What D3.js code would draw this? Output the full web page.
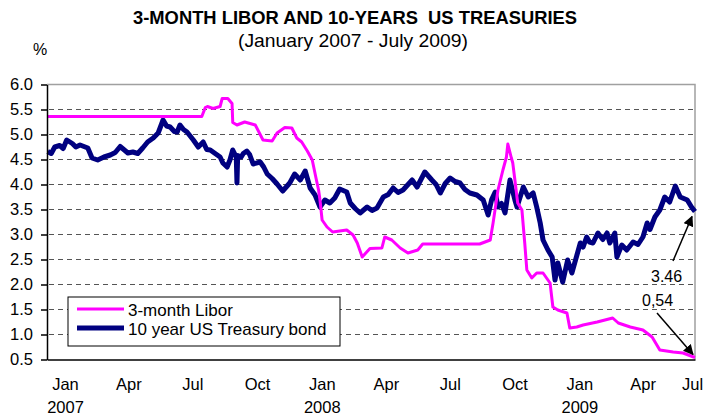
<!DOCTYPE html>
<html>
<head>
<meta charset="utf-8">
<script src="https://cdn.jsdelivr.net/npm/d3@7"></script>
<style>
  body { margin: 0; background: #fff; }
  svg { font-family: "Liberation Sans", Arial, sans-serif; }
</style>
</head>
<body>
<div id="chart"></div>
<script>
// 3-month Libor
var libor = [
  ["2007-01-01", 5.36], ["2007-08-09", 5.36], ["2007-08-14", 5.54], ["2007-08-17", 5.56],
  ["2007-08-25", 5.52], ["2007-09-04", 5.56], ["2007-09-07", 5.72], ["2007-09-15", 5.72],
  ["2007-09-21", 5.62], ["2007-09-22", 5.24], ["2007-09-28", 5.19], ["2007-10-09", 5.25],
  ["2007-10-24", 5.19], ["2007-11-04", 4.89], ["2007-11-17", 4.87], ["2007-11-24", 5.03],
  ["2007-12-05", 5.14], ["2007-12-15", 5.13], ["2007-12-22", 4.93], ["2007-12-29", 4.85],
  ["2008-01-06", 4.67], ["2008-01-13", 4.49], ["2008-01-18", 4.15], ["2008-01-22", 3.89],
  ["2008-01-24", 3.69], ["2008-01-27", 3.29], ["2008-02-03", 3.15], ["2008-02-11", 3.05],
  ["2008-03-02", 3.09], ["2008-03-11", 2.99], ["2008-03-17", 2.83], ["2008-03-24", 2.55],
  ["2008-04-04", 2.72], ["2008-04-21", 2.73], ["2008-04-25", 2.95], ["2008-05-05", 2.89],
  ["2008-05-17", 2.73], ["2008-05-28", 2.63], ["2008-06-11", 2.69], ["2008-06-18", 2.81],
  ["2008-09-07", 2.81], ["2008-09-22", 2.89], ["2008-09-26", 3.23], ["2008-10-03", 3.89],
  ["2008-10-10", 4.29], ["2008-10-15", 4.55], ["2008-10-17", 4.81], ["2008-10-22", 4.53],
  ["2008-10-24", 4.43], ["2008-10-27", 4.09], ["2008-10-31", 3.63], ["2008-11-06", 3.49],
  ["2008-11-10", 2.83], ["2008-11-13", 2.29], ["2008-11-20", 2.13], ["2008-11-27", 2.23],
  ["2008-12-06", 2.23], ["2008-12-16", 2.03], ["2008-12-20", 1.55], ["2008-12-27", 1.49],
  ["2009-01-09", 1.43], ["2009-01-13", 1.13], ["2009-01-23", 1.15], ["2009-02-01", 1.19],
  ["2009-02-21", 1.25], ["2009-03-15", 1.33], ["2009-03-23", 1.23], ["2009-04-09", 1.15],
  ["2009-04-27", 1.09], ["2009-05-10", 0.95], ["2009-05-21", 0.69], ["2009-06-09", 0.65],
  ["2009-06-23", 0.63], ["2009-07-10", 0.54]
];

// 10 year US Treasury bond yield
var treasury = [
  ["2007-01-02", 4.66], ["2007-01-07", 4.62], ["2007-01-12", 4.75], ["2007-01-19", 4.78],
  ["2007-01-24", 4.72], ["2007-01-29", 4.89], ["2007-02-06", 4.82], ["2007-02-11", 4.75],
  ["2007-02-17", 4.79], ["2007-02-28", 4.73], ["2007-03-06", 4.53], ["2007-03-14", 4.49],
  ["2007-03-23", 4.55], ["2007-04-01", 4.59], ["2007-04-08", 4.64], ["2007-04-15", 4.76],
  ["2007-04-26", 4.63], ["2007-05-03", 4.65], ["2007-05-10", 4.62], ["2007-05-17", 4.73],
  ["2007-05-24", 4.85], ["2007-06-01", 4.93], ["2007-06-08", 5.03], ["2007-06-15", 5.29],
  ["2007-06-20", 5.17], ["2007-06-25", 5.15], ["2007-07-01", 5.06], ["2007-07-05", 5.05],
  ["2007-07-09", 5.19], ["2007-07-14", 5.1], ["2007-07-19", 5.05], ["2007-07-28", 4.89],
  ["2007-08-04", 4.75], ["2007-08-11", 4.85], ["2007-08-16", 4.7], ["2007-08-21", 4.69],
  ["2007-08-31", 4.59], ["2007-09-04", 4.55], ["2007-09-08", 4.43], ["2007-09-14", 4.35],
  ["2007-09-18", 4.49], ["2007-09-22", 4.69], ["2007-09-27", 4.55], ["2007-09-28", 4.03],
  ["2007-09-29", 4.58], ["2007-10-04", 4.55], ["2007-10-07", 4.62], ["2007-10-12", 4.67],
  ["2007-10-16", 4.6], ["2007-10-21", 4.41], ["2007-10-31", 4.45], ["2007-11-05", 4.35],
  ["2007-11-10", 4.21], ["2007-11-17", 4.12], ["2007-11-24", 4.01], ["2007-12-02", 3.87],
  ["2007-12-07", 3.95], ["2007-12-12", 4.03], ["2007-12-19", 4.21], ["2007-12-27", 4.09],
  ["2008-01-03", 4.27], ["2008-01-10", 3.93], ["2008-01-17", 3.79], ["2008-01-24", 3.55],
  ["2008-01-31", 3.69], ["2008-02-07", 3.63], ["2008-02-14", 3.73], ["2008-02-21", 3.91],
  ["2008-03-02", 3.85], ["2008-03-07", 3.63], ["2008-03-14", 3.52], ["2008-03-21", 3.43],
  ["2008-03-31", 3.55], ["2008-04-07", 3.48], ["2008-04-14", 3.53], ["2008-04-23", 3.75],
  ["2008-04-30", 3.8], ["2008-05-07", 3.93], ["2008-05-14", 3.84], ["2008-05-21", 3.89],
  ["2008-06-03", 4.09], ["2008-06-10", 3.95], ["2008-06-21", 4.25], ["2008-07-01", 4.09],
  ["2008-07-07", 4.0], ["2008-07-13", 3.83], ["2008-07-20", 4.02], ["2008-07-27", 4.13],
  ["2008-08-03", 4.06], ["2008-08-10", 4.03], ["2008-08-17", 3.9], ["2008-08-24", 3.83],
  ["2008-09-03", 3.79], ["2008-09-12", 3.69], ["2008-09-19", 3.39], ["2008-09-24", 3.7],
  ["2008-09-29", 3.85], ["2008-10-03", 3.55], ["2008-10-08", 3.62], ["2008-10-13", 3.43],
  ["2008-10-20", 4.09], ["2008-10-27", 3.69], ["2008-10-30", 3.55], ["2008-11-08", 3.95],
  ["2008-11-15", 3.75], ["2008-11-22", 3.83], ["2008-11-27", 3.55], ["2008-12-02", 3.23],
  ["2008-12-06", 2.89], ["2008-12-13", 2.69], ["2008-12-19", 2.55], ["2008-12-23", 2.09],
  ["2008-12-27", 2.43], ["2009-01-03", 2.05], ["2009-01-10", 2.49], ["2009-01-16", 2.23],
  ["2009-01-28", 2.83], ["2009-02-01", 2.75], ["2009-02-06", 2.95], ["2009-02-10", 2.85],
  ["2009-02-15", 2.83], ["2009-02-22", 3.03], ["2009-03-01", 2.9], ["2009-03-07", 3.03],
  ["2009-03-11", 2.83], ["2009-03-18", 3.03], ["2009-03-21", 2.55], ["2009-03-28", 2.79],
  ["2009-04-04", 2.69], ["2009-04-13", 2.85], ["2009-04-20", 2.8], ["2009-04-27", 2.95],
  ["2009-05-03", 3.23], ["2009-05-07", 3.1], ["2009-05-14", 3.35], ["2009-05-21", 3.49],
  ["2009-05-28", 3.75], ["2009-06-04", 3.65], ["2009-06-12", 3.97], ["2009-06-19", 3.75],
  ["2009-06-24", 3.72], ["2009-06-29", 3.69], ["2009-07-05", 3.55], ["2009-07-10", 3.46]
];

var seriesNames = ["3-month Libor", "10 year US Treasury bond"];
var yTicks = [0.5, 1.0, 1.5, 2.0, 2.5, 3.0, 3.5, 4.0, 4.5, 5.0, 5.5, 6.0];
var xTickDates = ["2007-01-01", "2007-04-01", "2007-07-01", "2007-10-01", "2008-01-01",
  "2008-04-01", "2008-07-01", "2008-10-01", "2009-01-01", "2009-04-01", "2009-07-01"];
var endLabels = ["0,54", "3.46"];

(function () {
var W = 710, H = 417;
var parse = d3.timeParse("%Y-%m-%d");

var liborData = libor.map(function (d) { return { date: parse(d[0]), value: d[1] }; });
var tsyData = treasury.map(function (d) { return { date: parse(d[0]), value: d[1] }; });
var tickDates = xTickDates.map(parse);

var svg = d3.select("#chart").append("svg")
    .attr("width", W)
    .attr("height", H);

var plotLeft = 47, plotRight = 695, plotTop = 84.5, plotBottom = 359.5;

var x = d3.scaleTime()
    .domain([parse("2007-01-01"), parse("2009-07-10")])
    .range([plotLeft, plotRight]);

var y = d3.scaleLinear()
    .domain([0.5, 6])
    .range([plotBottom, plotTop]);

// titles
svg.append("text")
    .attr("x", 355).attr("y", 24)
    .attr("text-anchor", "middle")
    .attr("font-weight", "bold")
    .attr("font-size", 19)
    .attr("textLength", 444)
    .attr("lengthAdjust", "spacingAndGlyphs")
    .style("white-space", "pre")
    .text("3-MONTH LIBOR AND 10-YEARS  US TREASURIES");

svg.append("text")
    .attr("x", 353).attr("y", 47)
    .attr("text-anchor", "middle")
    .attr("font-size", 19)
    .attr("textLength", 230)
    .attr("lengthAdjust", "spacingAndGlyphs")
    .text("(January 2007 - July 2009)");

svg.append("text")
    .attr("x", 40).attr("y", 55)
    .attr("text-anchor", "middle")
    .attr("font-size", 16)
    .text("%");

// gridlines
svg.append("g").selectAll("line")
    .data(yTicks.filter(function (v) { return v > 0.5 && v < 6; }))
    .enter().append("line")
    .attr("x1", plotLeft + 2).attr("x2", plotRight)
    .attr("y1", function (d) { return y(d); })
    .attr("y2", function (d) { return y(d); })
    .attr("stroke", "#555")
    .attr("stroke-width", 1)
    .attr("stroke-dasharray", "5,4");

// top and right frame
svg.append("path")
    .attr("d", "M" + plotLeft + "," + y(6) + "H" + plotRight + "V" + y(0.5))
    .attr("fill", "none")
    .attr("stroke", "#a0a0a0")
    .attr("stroke-width", 1.5);

// series
var line = d3.line()
    .x(function (d) { return x(d.date); })
    .y(function (d) { return y(d.value); });

svg.append("path")
    .datum(tsyData)
    .attr("d", line)
    .attr("fill", "none")
    .attr("stroke", "#000080")
    .attr("stroke-width", 5)
    .attr("stroke-linejoin", "round");

svg.append("path")
    .datum(liborData)
    .attr("d", line)
    .attr("fill", "none")
    .attr("stroke", "#ff00ff")
    .attr("stroke-width", 3)
    .attr("stroke-linejoin", "round");

// axes
var yAxis = svg.append("g")
    .attr("transform", "translate(" + plotLeft + ",0)")
    .call(d3.axisLeft(y).tickValues(yTicks).tickSize(6).tickSizeOuter(0)
        .tickPadding(8).tickFormat(d3.format(".1f")));
yAxis.selectAll("text").attr("font-size", 16.5).attr("fill", "#000")
    .attr("font-family", "Liberation Sans, Arial, sans-serif");
yAxis.selectAll("line, path").attr("stroke", "#000").attr("stroke-width", 1.5);

var xAxis = svg.append("g")
    .attr("transform", "translate(0," + plotBottom + ")")
    .call(d3.axisBottom(x).tickValues(tickDates).tickSize(0).tickSizeOuter(0)
        .tickFormat(d3.timeFormat("%b")));
xAxis.select(".domain").attr("stroke", "#000").attr("stroke-width", 1.5);
xAxis.selectAll(".tick text")
    .attr("font-size", 16.5).attr("fill", "#000")
    .attr("font-family", "Liberation Sans, Arial, sans-serif")
    .attr("dy", 0).attr("y", 30)
    .attr("x", function (d) { return Math.min(18, 692 - x(d)); });
xAxis.selectAll(".tick")
    .filter(function (d) { return d.getMonth() === 0; })
    .append("text")
    .attr("font-size", 16.5).attr("fill", "#000")
    .attr("font-family", "Liberation Sans, Arial, sans-serif")
    .attr("text-anchor", "middle")
    .attr("y", 53)
    .attr("x", function (d) { return Math.min(18, 692 - x(d)); })
    .text(function (d) { return d.getFullYear(); });

// legend
var legend = svg.append("g").attr("transform", "translate(68,297)");
legend.append("rect")
    .attr("width", 272).attr("height", 49)
    .attr("fill", "#fff").attr("stroke", "#000").attr("stroke-width", 1);
var legendColors = ["#ff00ff", "#000080"];
var legendWidths = [3, 5];
seriesNames.forEach(function (name, i) {
    var ly = 12 + i * 19;
    legend.append("line")
        .attr("x1", 9).attr("x2", 56)
        .attr("y1", ly).attr("y2", ly)
        .attr("stroke", legendColors[i])
        .attr("stroke-width", legendWidths[i]);
    legend.append("text")
        .attr("x", 60).attr("y", ly + 7)
        .attr("font-size", 17)
        .text(name);
});

// end-value annotations with arrows
svg.append("defs").append("marker")
    .attr("id", "arrow")
    .attr("viewBox", "0 0 10 10")
    .attr("refX", 9).attr("refY", 5)
    .attr("markerWidth", 7).attr("markerHeight", 7)
    .attr("orient", "auto")
    .append("path").attr("d", "M0,0L10,5L0,10z").attr("fill", "#000");

var lastL = liborData[liborData.length - 1];
var lastT = tsyData[tsyData.length - 1];

svg.append("line")
    .attr("x1", 657).attr("y1", 313)
    .attr("x2", x(lastL.date) - 2).attr("y2", y(lastL.value) - 3)
    .attr("stroke", "#000").attr("stroke-width", 1.5)
    .attr("marker-end", "url(#arrow)");
svg.append("line")
    .attr("x1", 673).attr("y1", 261)
    .attr("x2", x(lastT.date) - 3).attr("y2", y(lastT.value) + 5)
    .attr("stroke", "#000").attr("stroke-width", 1.5)
    .attr("marker-end", "url(#arrow)");

svg.append("rect").attr("x", 640).attr("y", 293).attr("width", 36).attr("height", 15).attr("fill", "#fff");
svg.append("rect").attr("x", 649).attr("y", 269).attr("width", 38).attr("height", 15).attr("fill", "#fff");
svg.append("text").attr("x", 642).attr("y", 306).attr("font-size", 16).text(endLabels[0]);
svg.append("text").attr("x", 651).attr("y", 282).attr("font-size", 16).text(endLabels[1]);
})();
</script>
</body>
</html>
